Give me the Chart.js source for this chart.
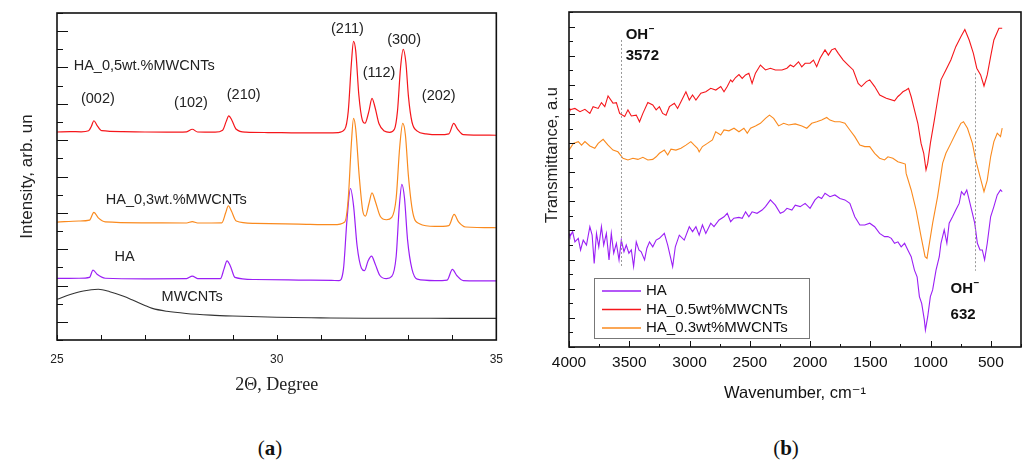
<!DOCTYPE html>
<html>
<head>
<meta charset="utf-8">
<script src="https://cdn.jsdelivr.net/npm/chart.js@4.4.0/dist/chart.umd.min.js"></script>
<style>
    body { margin: 0; background: #fff; width: 1027px; height: 466px; position: relative; overflow: hidden; }
    .panel { position: absolute; top: 0; height: 410px; }
    #panelA { left: 0; width: 515px; }
    #panelB { left: 515px; width: 512px; }
    .caption { position: absolute; top: 436px; line-height: 24px; font-family: 'Liberation Serif', 'Times New Roman', serif; font-size: 21px; color: #111; transform: translateX(-50%); }
</style>
</head>
<body>
<div class="panel" id="panelA"><canvas id="xrd" width="515" height="410"></canvas></div>
<div class="panel" id="panelB"><canvas id="ftir" width="512" height="410"></canvas></div>
<div class="caption" style="left:270px">(<b>a</b>)</div>
<div class="caption" style="left:786px">(<b>b</b>)</div>
<script>
// (a) XRD patterns: [2theta, intensity (stacked, arb. units)]
const xrdHA05 = [[25.0,11.45],[25.3,11.47],[25.55,11.46],[25.72,11.52],[25.78,11.75],[25.84,12.07],[25.91,11.82],[26.02,11.52],[26.5,11.47],[27.0,11.45],[27.5,11.44],[27.95,11.46],[28.08,11.6],[28.2,11.45],[28.6,11.44],[28.77,11.55],[28.85,12.02],[28.91,12.34],[28.98,12.1],[29.08,11.6],[29.3,11.44],[29.8,11.42],[30.5,11.4],[31.0,11.4],[31.4,11.42],[31.55,11.6],[31.63,12.6],[31.7,15.2],[31.75,16.44],[31.8,15.9],[31.87,13.5],[31.95,12.1],[32.01,11.93],[32.1,12.6],[32.17,13.3],[32.24,12.8],[32.33,11.9],[32.45,11.5],[32.57,11.43],[32.68,11.6],[32.75,12.6],[32.82,15.0],[32.88,16.0],[32.94,15.3],[33.0,13.4],[33.08,12.0],[33.2,11.5],[33.4,11.35],[33.7,11.3],[33.92,11.35],[34.03,11.92],[34.12,11.6],[34.25,11.3],[34.5,11.28],[35.0,11.27]];
const xrdHA03 = [[25.0,6.49],[25.5,6.55],[25.74,6.6],[25.84,7.03],[25.94,6.72],[26.1,6.5],[27.0,6.45],[27.95,6.44],[28.08,6.52],[28.2,6.44],[28.75,6.45],[28.84,7.0],[28.9,7.39],[28.97,7.1],[29.08,6.55],[29.5,6.42],[30.5,6.38],[31.3,6.35],[31.55,6.5],[31.63,7.8],[31.7,10.8],[31.75,12.2],[31.8,11.6],[31.88,9.0],[31.96,7.1],[32.02,6.82],[32.1,7.5],[32.17,8.1],[32.25,7.6],[32.36,6.8],[32.5,6.62],[32.62,6.75],[32.72,7.8],[32.8,10.6],[32.87,11.92],[32.93,11.3],[33.0,9.0],[33.1,7.0],[33.25,6.4],[33.6,6.25],[33.92,6.3],[34.04,6.91],[34.14,6.5],[34.3,6.22],[35.0,6.18]];
const xrdHA = [[25.0,3.39],[25.5,3.4],[25.74,3.45],[25.82,3.85],[25.92,3.6],[26.1,3.4],[27.0,3.37],[27.95,3.38],[28.08,3.52],[28.2,3.38],[28.72,3.38],[28.8,3.9],[28.87,4.36],[28.95,4.05],[29.05,3.45],[29.5,3.33],[30.5,3.3],[31.25,3.28],[31.42,3.27],[31.52,3.9],[31.6,6.6],[31.68,8.34],[31.75,7.4],[31.83,5.2],[31.93,3.95],[32.0,3.82],[32.08,4.35],[32.16,4.62],[32.24,4.2],[32.35,3.55],[32.5,3.38],[32.62,3.5],[32.72,4.6],[32.79,7.3],[32.85,8.57],[32.91,7.8],[32.98,5.5],[33.08,3.9],[33.2,3.35],[33.6,3.27],[33.88,3.3],[34.0,3.89],[34.1,3.55],[34.25,3.27],[35.0,3.25]];
const xrdMWCNT = [[25.0,2.24],[25.3,2.5],[25.6,2.7],[25.94,2.79],[26.2,2.66],[26.5,2.42],[26.72,2.2],[27.0,1.9],[27.17,1.74],[27.5,1.58],[27.94,1.46],[28.5,1.37],[29.0,1.32],[30.0,1.25],[31.0,1.22],[32.0,1.2],[33.0,1.2],[34.0,1.19],[35.0,1.19]];

// text placed in data coords: [text, 2theta, intensity, align]
const xrdLabels = [
    ['HA_0,5wt.%MWCNTs', 25.38, 15.08, 'left'],
    ['(002)', 25.93, 13.26, 'center'],
    ['(102)', 28.05, 13.04, 'center'],
    ['(210)', 29.25, 13.48, 'center'],
    ['(211)', 31.61, 17.12, 'center'],
    ['(112)', 32.33, 14.69, 'center'],
    ['(300)', 32.9, 16.51, 'center'],
    ['(202)', 33.69, 13.43, 'center'],
    ['HA_0,3wt.%MWCNTs', 26.11, 7.7, 'left'],
    ['HA', 26.31, 4.57, 'left'],
    ['MWCNTs', 27.38, 2.37, 'left']
];

// (b) FTIR spectra: [wavenumber cm-1, transmittance (stacked, a.u.)]
const ftirHA = [[4000,3.9],[3992,3.79],[3970,3.96],[3951,3.61],[3923,3.73],[3904,3.33],[3882,3.67],[3855,3.5],[3827,4.13],[3808,3.84],[3791,2.87],[3772,3.9],[3753,3.44],[3731,4.13],[3712,3.5],[3690,3.9],[3668,2.99],[3649,3.9],[3629,3.22],[3607,3.56],[3585,2.99],[3566,3.67],[3544,3.27],[3525,3.5],[3503,3.22],[3483,3.33],[3464,2.76],[3442,3.61],[3420,3.33],[3401,3.27],[3373,2.99],[3354,3.39],[3332,3.61],[3305,3.44],[3277,3.67],[3250,3.73],[3209,3.9],[3181,3.5],[3140,2.76],[3118,3.44],[3085,3.84],[3044,3.67],[3002,4.13],[2975,3.96],[2947,4.13],[2920,3.84],[2893,4.19],[2865,3.9],[2824,4.25],[2797,4.13],[2755,4.36],[2714,4.47],[2687,4.59],[2659,4.3],[2632,4.42],[2590,4.45],[2563,4.42],[2535,4.64],[2508,4.47],[2481,4.64],[2440,4.59],[2398,4.7],[2370,4.82],[2329,5.05],[2288,4.87],[2247,4.59],[2219,4.64],[2192,4.76],[2151,4.7],[2123,4.87],[2082,4.82],[2041,4.93],[2000,4.76],[1959,5.05],[1931,5.16],[1904,5.1],[1876,5.28],[1835,5.16],[1794,5.22],[1752,5.1],[1711,5.05],[1670,4.93],[1629,4.47],[1587,4.19],[1546,4.19],[1505,4.25],[1464,4.13],[1423,3.9],[1382,3.79],[1354,3.79],[1326,3.73],[1299,3.56],[1271,3.61],[1244,3.44],[1216,3.56],[1189,3.33],[1161,3.1],[1134,2.64],[1112,2.41],[1093,1.73],[1074,1.5],[1052,0.93],[1043,0.58],[1024,1.04],[1002,1.73],[983,1.96],[955,2.64],[928,3.1],[914,3.56],[887,4.02],[865,3.56],[846,4.25],[818,4.47],[791,4.7],[763,4.93],[744,5.33],[722,5.22],[700,5.39],[680,5.05],[653,4.59],[634,4.25],[612,3.56],[590,3.33],[571,3.33],[552,2.99],[530,3.56],[502,4.47],[475,4.82],[447,5.22],[420,5.39],[406,5.33]];
const ftirHA05 = [[4000,8.19],[3992,8.14],[3951,8.19],[3909,8.08],[3868,8.16],[3827,8.02],[3800,8.25],[3758,8.19],[3731,8.39],[3703,8.25],[3676,8.62],[3635,8.37],[3607,8.39],[3580,8.02],[3538,7.91],[3511,8.14],[3483,7.93],[3442,7.96],[3415,7.73],[3387,8.02],[3346,8.39],[3305,8.31],[3277,8.14],[3250,8.25],[3223,8.02],[3195,7.96],[3167,8.25],[3126,8.37],[3099,8.19],[3071,8.42],[3030,8.76],[3002,8.48],[2975,8.65],[2947,8.48],[2906,8.71],[2865,8.76],[2824,8.88],[2782,8.82],[2741,8.94],[2714,8.76],[2687,8.94],[2659,9.17],[2645,9.1],[2618,9.25],[2590,9.35],[2563,9.22],[2535,9.34],[2508,9.4],[2481,9.05],[2453,9.4],[2412,9.68],[2370,9.51],[2329,9.57],[2288,9.51],[2233,9.51],[2192,9.57],[2164,9.68],[2137,9.62],[2096,9.79],[2069,9.62],[2041,9.74],[2000,9.74],[1972,9.85],[1945,9.62],[1917,9.91],[1876,10.2],[1848,10.02],[1821,10.2],[1793,10.25],[1766,10.08],[1725,9.85],[1684,9.68],[1642,9.51],[1601,9.05],[1574,8.94],[1533,9.11],[1505,9.17],[1464,8.94],[1422,8.65],[1368,8.54],[1299,8.45],[1271,8.6],[1257,8.65],[1230,8.76],[1203,8.82],[1183,8.88],[1161,8.59],[1134,8.14],[1106,7.68],[1079,6.99],[1057,6.65],[1038,6.08],[1024,6.31],[1002,6.99],[969,7.79],[942,8.48],[914,9.17],[873,9.51],[832,9.85],[791,10.31],[749,10.65],[716,10.9],[680,10.54],[645,10.08],[617,9.57],[585,9.34],[557,8.96],[530,9.34],[502,9.97],[475,10.54],[433,10.94],[406,10.94]];
const ftirHA03 = [[4000,6.76],[3992,6.76],[3964,6.99],[3923,7.05],[3896,6.93],[3868,7.05],[3827,6.9],[3786,6.82],[3758,6.99],[3717,7.13],[3676,6.93],[3635,6.76],[3594,6.7],[3552,6.48],[3511,6.42],[3470,6.48],[3428,6.44],[3387,6.51],[3346,6.42],[3305,6.44],[3277,6.53],[3250,6.65],[3209,6.76],[3181,6.59],[3154,6.79],[3113,6.76],[3071,6.82],[3030,6.93],[2989,7.05],[2961,6.93],[2934,6.82],[2920,6.7],[2893,6.88],[2852,6.99],[2810,7.11],[2783,7.39],[2741,7.28],[2714,7.45],[2673,7.42],[2631,7.51],[2590,7.39],[2549,7.51],[2521,7.34],[2494,7.51],[2453,7.59],[2412,7.68],[2370,7.85],[2337,7.96],[2302,7.85],[2261,7.59],[2219,7.68],[2178,7.62],[2123,7.66],[2068,7.59],[2027,7.51],[1986,7.68],[1945,7.73],[1904,7.79],[1862,7.88],[1835,7.79],[1794,7.73],[1752,7.73],[1711,7.68],[1670,7.45],[1629,7.22],[1587,6.93],[1546,6.88],[1505,6.88],[1464,6.65],[1423,6.48],[1382,6.42],[1354,6.53],[1313,6.48],[1272,6.36],[1230,6.31],[1210,6.28],[1203,5.96],[1161,5.39],[1120,4.7],[1079,3.79],[1046,3.1],[1030,3.04],[1010,3.56],[983,4.25],[942,5.16],[900,6.31],[873,6.65],[832,6.99],[791,7.34],[749,7.68],[727,7.73],[694,7.51],[653,6.99],[626,6.42],[590,5.85],[557,5.33],[530,5.73],[502,6.53],[475,7.05],[447,7.34],[420,7.22],[406,7.51]];

// OH- bands: [wavenumber, dashed line top, dashed line bottom]
const ohBands = [[3572, 10.54, 2.75], [632, 9.4, 2.62]];
// band labels: [line1, line2, wavenumber, transmittance]
const ohLabels = [['3572', 3530, 10.71, 10.0], ['632', 834, 1.99, 1.1]];

const sans = '"Liberation Sans", Arial, "DejaVu Sans", sans-serif';

function toPoints(pairs) {
    return pairs.map(p => ({ x: p[0], y: p[1] }));
}

function isOnStep(v, start, step) {
    const k = (v - start) / step;
    return Math.abs(k - Math.round(k)) < 1e-6;
}

// inward tick marks + closed frame around the plot area
const framePlugin = {
    id: 'frame',
    afterDatasetsDraw(chart, args, o) {
        const { ctx, chartArea: a, scales: { x, y } } = chart;
        ctx.save();
        ctx.strokeStyle = '#111';
        ctx.lineWidth = 1;
        ctx.beginPath();
        x.ticks.forEach(t => {
            const px = Math.round(x.getPixelForValue(t.value)) + 0.5;
            const len = isOnStep(t.value, o.xStart, o.xStep) ? o.xMajorLen : o.xMinorLen;
            ctx.moveTo(px, a.bottom);
            ctx.lineTo(px, a.bottom - len);
        });
        y.ticks.forEach(t => {
            const py = Math.round(y.getPixelForValue(t.value)) + 0.5;
            const len = isOnStep(t.value, o.yStart, o.yStep) ? o.yMajorLen : o.yMinorLen;
            ctx.moveTo(a.left, py);
            ctx.lineTo(a.left + len, py);
        });
        ctx.stroke();
        ctx.lineWidth = 1.6;
        ctx.strokeRect(a.left, a.top, a.width, a.height);
        ctx.restore();
    }
};

const xrdTextPlugin = {
    id: 'xrdText',
    afterDatasetsDraw(chart) {
        const { ctx, scales: { x, y } } = chart;
        ctx.save();
        ctx.font = '14.5px ' + sans;
        ctx.fillStyle = '#222';
        ctx.textBaseline = 'middle';
        xrdLabels.forEach(([text, tx, ty, align]) => {
            ctx.textAlign = align;
            ctx.fillText(text, x.getPixelForValue(tx), y.getPixelForValue(ty));
        });
        ctx.restore();
    }
};

const ftirExtrasPlugin = {
    id: 'ftirExtras',
    afterDatasetsDraw(chart) {
        const { ctx, chartArea: a, scales: { x, y } } = chart;
        ctx.save();

        // dashed OH- band markers
        ctx.strokeStyle = '#999';
        ctx.lineWidth = 1;
        ctx.setLineDash([2, 2]);
        ohBands.forEach(([w, top, bottom]) => {
            const px = Math.round(x.getPixelForValue(w)) + 0.5;
            ctx.beginPath();
            ctx.moveTo(px, y.getPixelForValue(top));
            ctx.lineTo(px, y.getPixelForValue(bottom));
            ctx.stroke();
        });
        ctx.setLineDash([]);

        // OH- labels
        ctx.fillStyle = '#111';
        ctx.textAlign = 'left';
        ctx.textBaseline = 'middle';
        ohLabels.forEach(([num, w, yOH, yNum]) => {
            const px = x.getPixelForValue(w);
            const py = y.getPixelForValue(yOH);
            ctx.font = 'bold 15px ' + sans;
            ctx.fillText('OH', px, py);
            const ohW = ctx.measureText('OH').width;
            ctx.font = 'bold 10px ' + sans;
            ctx.fillText('\u2013', px + ohW + 0.5, py - 6);
            ctx.font = 'bold 15px ' + sans;
            ctx.fillText(num, px, y.getPixelForValue(yNum));
        });

        // legend box
        const lx = a.left + 25, ly = 278, lw = 215, lh = 60;
        ctx.fillStyle = '#fff';
        ctx.fillRect(lx, ly, lw, lh);
        ctx.strokeStyle = '#777';
        ctx.lineWidth = 1;
        ctx.strokeRect(lx + 0.5, ly + 0.5, lw, lh);
        ctx.font = '15px ' + sans;
        ctx.textBaseline = 'middle';
        chart.data.datasets.forEach((ds, i) => {
            const ry = ly + 13 + i * 18.5;
            ctx.strokeStyle = ds.borderColor;
            ctx.lineWidth = 1.3;
            ctx.beginPath();
            ctx.moveTo(lx + 8, ry);
            ctx.lineTo(lx + 47, ry);
            ctx.stroke();
            ctx.fillStyle = '#111';
            ctx.fillText(ds.label, lx + 52, ry);
        });

        // y axis title (sits above the plot centre in the original)
        ctx.translate(37, 155);
        ctx.rotate(-Math.PI / 2);
        ctx.textAlign = 'center';
        ctx.font = '16.5px ' + sans;
        ctx.fillStyle = '#222';
        ctx.fillText('Transmittance, a.u', 0, 0);
        ctx.restore();
    }
};

function lineSet(label, pairs, color, width, smooth) {
    return {
        label: label,
        data: toPoints(pairs),
        borderColor: color,
        backgroundColor: color,
        borderWidth: width,
        pointRadius: 0,
        fill: false,
        tension: smooth ? 0.4 : 0,
        cubicInterpolationMode: smooth ? 'monotone' : 'default'
    };
}

new Chart(document.getElementById('xrd'), {
    type: 'line',
    data: {
        datasets: [
            lineSet('HA_0,5wt.%MWCNTs', xrdHA05, '#f5161b', 1.2, true),
            lineSet('HA_0,3wt.%MWCNTs', xrdHA03, '#fa8a1e', 1.2, true),
            lineSet('HA', xrdHA, '#9b1ff5', 1.2, true),
            lineSet('MWCNTs', xrdMWCNT, '#333333', 1.1, true)
        ]
    },
    options: {
        responsive: false,
        animation: false,
        layout: { padding: { left: 0, top: 13, right: 16, bottom: 0 } },
        plugins: {
            legend: { display: false },
            tooltip: { enabled: false },
            frame: { xStart: 25, xStep: 5, xMajorLen: 5, xMinorLen: 5, yStart: 1, yStep: 2, yMajorLen: 11, yMinorLen: 6 }
        },
        scales: {
            x: {
                type: 'linear', min: 25, max: 35,
                grid: { display: false, drawTicks: false },
                border: { display: false },
                ticks: {
                    stepSize: 1, autoSkip: false, maxRotation: 0, padding: 12,
                    font: { family: sans, size: 12 }, color: '#222',
                    callback: v => (v % 5 === 0 ? v : '')
                },
                title: { display: true, text: '2\u0398, Degree', color: '#222', font: { family: '"Liberation Serif", "Times New Roman", serif', size: 18 }, padding: { top: 0, bottom: 14 } },
                afterFit: s => { s.height = 70; }
            },
            y: {
                min: 0, max: 18,
                grid: { display: false, drawTicks: false },
                border: { display: false },
                ticks: { stepSize: 1, display: false },
                title: { display: true, text: 'Intensity, arb. un', color: '#222', font: { family: sans, size: 17 }, padding: { top: 17, bottom: 0 } },
                afterFit: s => { s.width = 57; }
            }
        }
    },
    plugins: [framePlugin, xrdTextPlugin]
});

new Chart(document.getElementById('ftir'), {
    type: 'line',
    data: {
        datasets: [
            lineSet('HA', ftirHA, '#9b1ff5', 1.1, false),
            lineSet('HA_0.5wt%MWCNTs', ftirHA05, '#f5161b', 1.1, false),
            lineSet('HA_0.3wt%MWCNTs', ftirHA03, '#fa8a1e', 1.1, false)
        ]
    },
    options: {
        responsive: false,
        animation: false,
        layout: { padding: { left: 0, top: 12, right: 3, bottom: 0 } },
        plugins: {
            legend: { display: false },
            tooltip: { enabled: false },
            frame: { xStart: 0, xStep: 500, xMajorLen: 6, xMinorLen: 3, yStart: 0, yStep: 1, yMajorLen: 6, yMinorLen: 4 }
        },
        scales: {
            x: {
                type: 'linear', min: 250, max: 4000, reverse: true,
                grid: { display: false, drawTicks: false },
                border: { display: false },
                ticks: {
                    stepSize: 250, autoSkip: false, maxRotation: 0, padding: 6,
                    font: { family: sans, size: 15.5 }, color: '#111',
                    callback: v => (v % 500 === 0 ? v : '')
                },
                title: { display: true, text: 'Wavenumber, cm\u207B\u00B9', color: '#111', font: { family: sans, size: 16.5 }, padding: { top: 0, bottom: 7 } },
                afterFit: s => { s.height = 63; }
            },
            y: {
                min: 0, max: 11.5,
                grid: { display: false, drawTicks: false },
                border: { display: false },
                ticks: { stepSize: 0.5, display: false },
                afterFit: s => { s.width = 54; }
            }
        }
    },
    plugins: [framePlugin, ftirExtrasPlugin]
});
</script>
</body>
</html>
